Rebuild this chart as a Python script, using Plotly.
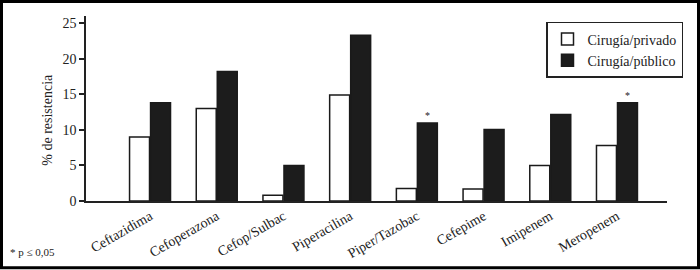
import plotly.graph_objects as go

categories = ["Ceftazidima", "Cefoperazona", "Cefop/Sulbac", "Piperacilina",
              "Piper/Tazobac", "Cefepime", "Imipenem", "Meropenem"]
privado = [9.0, 13.0, 0.8, 14.9, 1.75, 1.7, 5.0, 7.8]
publico = [13.8, 18.2, 5.0, 23.3, 10.95, 10.05, 12.15, 13.8]
significant = [False, False, False, False, True, False, False, True]
y_ticks = [0, 5, 10, 15, 20, 25]

FONT = "Times New Roman, Liberation Serif, DejaVu Serif, serif"
x = list(range(len(categories)))

fig = go.Figure()
fig.add_trace(go.Bar(x=x, y=privado, name="Cirugía/privado",
                     marker=dict(color="white", line=dict(color="#1a1a1a", width=1.5))))
fig.add_trace(go.Bar(x=x, y=publico, name="Cirugía/público",
                     marker=dict(color="#1c1c1c", line=dict(color="#1a1a1a", width=1.5))))

for i, s in enumerate(significant):
    if s:
        fig.add_annotation(x=i + 0.165, y=publico[i], text="*", showarrow=False,
                           yanchor="bottom", yshift=0, font=dict(family=FONT, size=10, color="#222"))

W, H = 700, 270
L, R, T, B = 86, 33, 16, 68.5
pw, ph = W - L - R, H - T - B

def px2paper(px, py):
    return (px - L) / pw, (H - B - py) / ph

x0, y1 = px2paper(1.5, 1.5)
x1, y0 = px2paper(698.5, 268.5)
fig.add_shape(type="rect", xref="paper", yref="paper", x0=x0, y0=y0, x1=x1, y1=y1,
              line=dict(color="black", width=3), fillcolor="rgba(0,0,0,0)", layer="above")

tx, ty = px2paper(48, 120)
fig.add_annotation(xref="paper", yref="paper", x=tx, y=ty, text="% de resistencia",
                   xanchor="center", yanchor="middle",
                   textangle=-90, showarrow=False, font=dict(family=FONT, size=14, color="#222"))
fx, fy = px2paper(8, 253)
fig.add_annotation(xref="paper", yref="paper", x=fx, y=fy, text="* p ≤ 0,05",
                   xanchor="left", yanchor="middle", showarrow=False,
                   font=dict(family=FONT, size=11, color="#222"))

lx, ly = px2paper(546, 22)
fig.update_layout(
    width=W, height=H,
    margin=dict(l=L, r=R, t=T, b=B, autoexpand=False),
    paper_bgcolor="white", plot_bgcolor="white",
    barmode="group", bargap=0.37, bargroupgap=0.05,
    font=dict(family=FONT, size=14, color="#222"),
    showlegend=True,
    legend=dict(x=lx, y=ly, xanchor="left", yanchor="top",
                bordercolor="#222", borderwidth=1.5, bgcolor="white",
                font=dict(family=FONT, size=14, color="#222"),
                tracegroupgap=2),
    xaxis=dict(range=[-0.96, 7.75], tickvals=x, ticktext=categories, tickangle=-30,
               automargin=False,
               showline=True, linecolor="#222", linewidth=1.5, ticks="",
               showgrid=False, zeroline=False, tickfont=dict(family=FONT, size=14, color="#222")),
    yaxis=dict(range=[0, 26], tickvals=y_ticks, showline=True, linecolor="#222", linewidth=1.5,
               automargin=False,
               ticks="outside", ticklen=5, tickwidth=1.5, tickcolor="#222",
               showgrid=False, zeroline=False, tickfont=dict(family=FONT, size=14, color="#222")),
)

fig.write_html("out.html", config={"displayModeBar": False},
               post_script="document.body.style.margin='0';document.body.style.overflow='hidden';")
